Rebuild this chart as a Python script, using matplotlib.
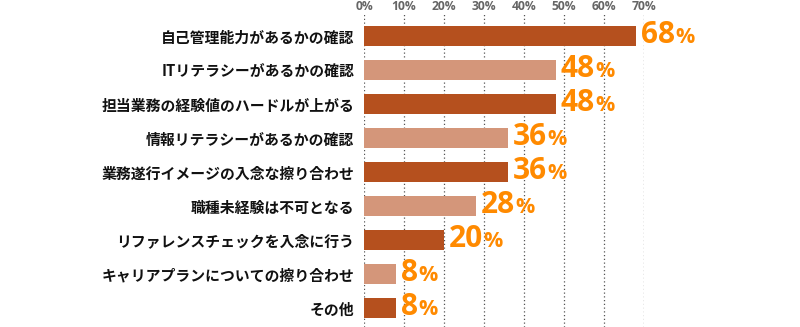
import matplotlib
matplotlib.use("Agg")
import matplotlib.pyplot as plt

categories = [
    "自己管理能力があるかの確認",
    "ITリテラシーがあるかの確認",
    "担当業務の経験値のハードルが上がる",
    "情報リテラシーがあるかの確認",
    "業務遂行イメージの入念な擦り合わせ",
    "職種未経験は不可となる",
    "リファレンスチェックを入念に行う",
    "キャリアプランについての擦り合わせ",
    "その他",
]
values = [68, 48, 48, 36, 36, 28, 20, 8, 8]
ticks = [0, 10, 20, 30, 40, 50, 60, 70]
tick_labels = [f"{t}%" for t in ticks]

plt.rcParams['font.family'] = ['Noto Sans CJK JP', 'DejaVu Sans']
num_font = ['Open Sans', 'DejaVu Sans']

dark = "#b5501e"
light = "#d4967a"
orange = "#ff8a00"

DPI = 100
fig = plt.figure(figsize=(8.0, 3.27), dpi=DPI)
ax = fig.add_axes([364/800, 0, (644-364)/800, 1 - 14/327])

ys = list(range(len(categories)))
colors = [dark if i % 2 == 0 else light for i in ys]
ax.barh(ys, values, height=20/34, color=colors, zorder=2)

ax.set_xlim(0, 70)
ax.set_ylim(8 + 19/34, -22/34)

for t in ticks:
    ax.axvline(t, color="#555555", linestyle=(0, (1, 2)), linewidth=0.9, zorder=1)

ax.xaxis.tick_top()
ax.set_xticks(ticks)
ax.set_xticklabels(tick_labels, color="#666666", fontsize=8.7, fontweight="bold",
                   family=num_font)
ax.tick_params(axis='x', length=0, pad=1)
ax.set_yticks(ys)
ax.set_yticklabels(categories, fontsize=10.7, fontweight="bold", color="#111111")
ax.tick_params(axis='y', length=0, pad=7)
for s in ax.spines.values():
    s.set_visible(False)

fig.canvas.draw()
renderer = fig.canvas.get_renderer()
for y, v in zip(ys, values):
    t = ax.annotate(f"{v}", xy=(v, y), xytext=(3.5, -5.2), textcoords="offset points",
                    ha="left", va="baseline", fontsize=21.5, fontweight="bold",
                    family=num_font, color=orange, annotation_clip=False)
    w = t.get_window_extent(renderer).width * 72 / DPI
    ax.annotate("%", xy=(v, y), xytext=(3.5 + w + 0.5, -5.2), textcoords="offset points",
                ha="left", va="baseline", fontsize=15.5, fontweight="bold",
                family=num_font, color=orange, annotation_clip=False)

fig.savefig("out.png", dpi=DPI)
